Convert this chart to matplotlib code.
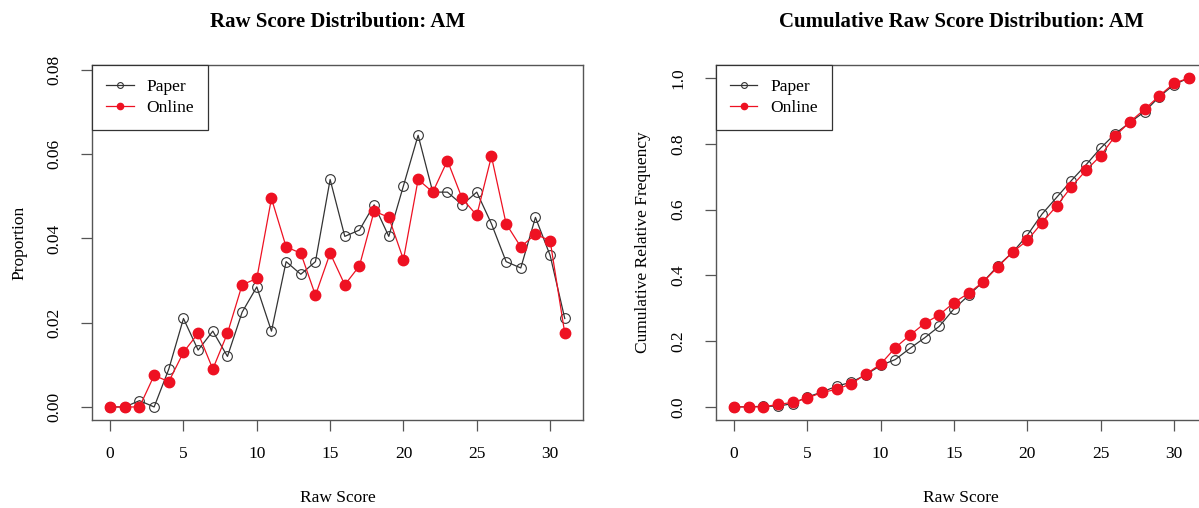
import numpy as np
import matplotlib
matplotlib.use("Agg")
import matplotlib.pyplot as plt

plt.rcParams['font.family'] = ['Liberation Serif', 'DejaVu Serif']

scores = list(range(32))

paper_prop = [0, 0, 0.0015, 0, 0.009, 0.021, 0.0135, 0.018, 0.012, 0.0225, 0.0285,
              0.018, 0.0345, 0.0315, 0.0345, 0.054, 0.0405, 0.042, 0.048, 0.0405, 0.0525,
              0.0645, 0.051, 0.051, 0.048, 0.051, 0.0435, 0.0345, 0.033, 0.045, 0.036, 0.021]
online_prop = [0, 0, 0, 0.0075, 0.006, 0.013, 0.0175, 0.009, 0.0175, 0.029, 0.0305,
               0.0495, 0.038, 0.0365, 0.0265, 0.0365, 0.029, 0.0335, 0.0465, 0.045, 0.035,
               0.054, 0.051, 0.0585, 0.0495, 0.0455, 0.0595, 0.0435, 0.038, 0.041, 0.0395, 0.0175]

paper_cum = [0, 0, 0.002, 0.002, 0.01, 0.03, 0.045, 0.063, 0.075, 0.098, 0.126,
             0.144, 0.178, 0.21, 0.245, 0.298, 0.339, 0.381, 0.429, 0.47, 0.522,
             0.586, 0.637, 0.688, 0.736, 0.787, 0.831, 0.865, 0.898, 0.943, 0.98, 1.0]
online_cum = [0, 0, 0, 0.0075, 0.0135, 0.0265, 0.044, 0.053, 0.0705, 0.0995, 0.13,
              0.18, 0.218, 0.254, 0.28, 0.317, 0.346, 0.38, 0.426, 0.471, 0.506,
              0.56, 0.611, 0.669, 0.719, 0.764, 0.824, 0.867, 0.905, 0.946, 0.984, 1.0]

paper_col = '#333333'
online_col = '#ee1122'

fig = plt.figure(figsize=(11.99, 5.08), dpi=100)
ax1 = fig.add_axes([0.0767, 0.1732, 0.4095, 0.699])
ax2 = fig.add_axes([0.597, 0.1732, 0.4095, 0.699])


def draw(ax, paper, online, ylim, yticks, ylabels, title, ylabel):
    ax.plot(scores, paper, color=paper_col, lw=0.9, marker='o', ms=7,
            mfc='none', mec=paper_col, mew=0.8, label='Paper')
    ax.plot(scores, online, color=online_col, lw=0.9, marker='o', ms=7.5,
            mfc=online_col, mec=online_col, label='Online')
    ax.set_xlim(-1.24, 32.24)
    ax.set_ylim(*ylim)
    ax.set_xticks([0, 5, 10, 15, 20, 25, 30])
    ax.set_yticks(yticks)
    ax.set_yticklabels(ylabels, rotation=90, va='center')
    ax.tick_params(direction='out', length=8, width=0.9, color='#555555',
                   labelsize=12.5)
    ax.tick_params(axis='x', pad=11)
    ax.tick_params(axis='y', pad=13)
    for s in ax.spines.values():
        s.set_color('#555555')
        s.set_linewidth(1.0)
    ax.set_title(title, fontsize=15, fontweight='bold', pad=27)
    ax.set_xlabel('Raw Score', fontsize=12.5, labelpad=20)
    ax.set_ylabel(ylabel, fontsize=12.5, labelpad=14)
    leg = ax.legend(loc='upper left', fontsize=12.5, frameon=True, fancybox=False,
                    borderaxespad=0, handlelength=1.6, borderpad=0.8,
                    labelspacing=0.28, handleheight=0.7, handletextpad=0.75,
                    markerscale=0.6)
    leg.get_frame().set_edgecolor('#333333')
    leg.get_frame().set_linewidth(0.9)
    leg.get_frame().set_alpha(1)


draw(ax1, paper_prop, online_prop, (-0.0031, 0.0812),
     [0, 0.02, 0.04, 0.06, 0.08], ['0.00', '0.02', '0.04', '0.06', '0.08'],
     'Raw Score Distribution: AM', 'Proportion')
draw(ax2, paper_cum, online_cum, (-0.04, 1.04),
     [0, 0.2, 0.4, 0.6, 0.8, 1.0], ['0.0', '0.2', '0.4', '0.6', '0.8', '1.0'],
     'Cumulative Raw Score Distribution: AM', 'Cumulative Relative Frequency')

fig.savefig('out.png', dpi=100)
